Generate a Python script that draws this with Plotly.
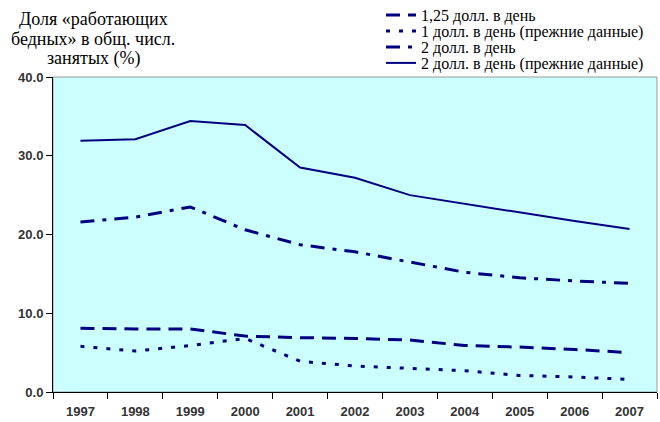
import plotly.graph_objects as go

years = ["1997", "1998", "1999", "2000", "2001", "2002", "2003", "2004", "2005", "2006", "2007"]
usd125 = [8.1, 8.0, 8.0, 7.1, 6.9, 6.8, 6.6, 5.9, 5.7, 5.4, 5.0]
usd1_old = [5.8, 5.2, 5.9, 6.8, 3.9, 3.3, 3.0, 2.7, 2.1, 1.9, 1.6]
usd2 = [21.6, 22.2, 23.5, 20.6, 18.7, 17.8, 16.5, 15.2, 14.5, 14.1, 13.8]
usd2_old = [31.9, 32.1, 34.4, 33.9, 28.5, 27.2, 25.0, 23.9, 22.8, 21.7, 20.7]

names = ["1,25 долл. в день", "1 долл. в день (прежние данные)",
         "2 долл. в день", "2 долл. в день (прежние данные)"]
title_lines = ["Доля «работающих", "бедных» в общ. числ.", "занятых (%)"]

navy = "#000080"
serif = "Liberation Serif"
sans = "Liberation Sans"

W, H = 660, 422
L, R, T, B = 53, 3, 77, 30
PW, PH = W - L - R, H - T - B


def px_x(x):
    return (x - L) / PW


def px_y(y):
    return 1 - (y - T) / PH


fig = go.Figure()
fig.add_trace(go.Scatter(x=years, y=usd125, mode="lines", name=names[0], legend="legend",
                         line=dict(color=navy, width=3, dash="14px,8px")))
fig.add_trace(go.Scatter(x=years, y=usd1_old, mode="lines", name=names[1], legend="legend2",
                         line=dict(color=navy, width=3, dash="4px,9px")))
fig.add_trace(go.Scatter(x=years, y=usd2, mode="lines", name=names[2], legend="legend3",
                         line=dict(color=navy, width=3, dash="14px,8px,4px,8px")))
fig.add_trace(go.Scatter(x=years, y=usd2_old, mode="lines", name=names[3], legend="legend4",
                         line=dict(color=navy, width=2)))

fig.add_shape(type="rect", xref="paper", yref="paper", x0=0, x1=1, y0=0, y1=1,
              line=dict(color="#999999", width=1), layer="below")

for i, line in enumerate(title_lines):
    fig.add_annotation(text=line, xref="paper", yref="paper",
                       x=px_x(93), y=px_y(19 + 19.5 * i),
                       showarrow=False, xanchor="center", yanchor="middle",
                       font=dict(family=serif, size=18, color="#000000"))

legend_style = dict(xanchor="left", yanchor="middle", bgcolor="rgba(0,0,0,0)",
                    font=dict(family=serif, size=16, color="#000000"),
                    itemwidth=30, x=px_x(381))
leg_y = [15, 31, 47, 63]

fig.update_layout(
    template="none",
    width=W, height=H,
    font=dict(family=serif),
    margin=dict(l=L, r=R, t=T, b=B, autoexpand=False),
    paper_bgcolor="white",
    plot_bgcolor="#CCFFFF",
    showlegend=True,
    legend=dict(y=px_y(leg_y[0]), **legend_style),
    legend2=dict(y=px_y(leg_y[1]), **legend_style),
    legend3=dict(y=px_y(leg_y[2]), **legend_style),
    legend4=dict(y=px_y(leg_y[3]), **legend_style),
    xaxis=dict(type="category", range=[-0.5, 10.5], showgrid=False, showline=True,
               automargin=False,
               linecolor="#000000", linewidth=1, ticks="outside", tickson="boundaries",
               ticklen=6, tickcolor="#000000", ticklabelstandoff=7,
               tickfont=dict(family=sans, size=13, color="#333333"),
               tickprefix="<b>", ticksuffix="</b>"),
    yaxis=dict(range=[0, 40], dtick=10, tickformat=".1f", showgrid=False,
               automargin=False,
               showline=True, linecolor="#000000", linewidth=1, ticks="outside",
               ticklen=6, tickcolor="#000000", zeroline=False,
               tickfont=dict(family=sans, size=13, color="#333333"),
               tickprefix="<b>", ticksuffix="</b>"),
)

fig.write_html("out.html", config={"displayModeBar": False},
               post_script="document.body.style.margin='0';")
